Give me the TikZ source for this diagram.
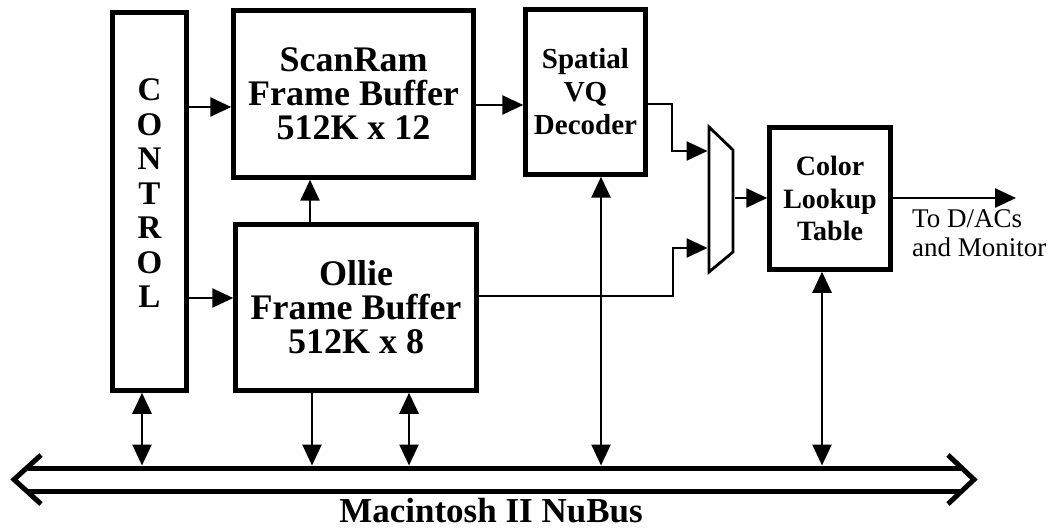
\documentclass[tikz,border=0pt]{standalone}
\usepackage{fontspec}
\setmainfont{Liberation Serif}
\usetikzlibrary{arrows.meta,calc}
\begin{document}
\begin{tikzpicture}[x=1pt,y=-1pt,
  blk/.style={draw,line width=4.5pt,inner sep=0pt,align=center,font=\bfseries},
  arr/.style={line width=2.6pt,-{Triangle[length=21pt,width=19pt]}},
  darr/.style={line width=2.6pt,{Triangle[length=21pt,width=19pt]}-{Triangle[length=21pt,width=19pt]}},
  busline/.style={line width=5pt},
  bigtxt/.style={font=\fontsize{36}{34}\selectfont\bfseries},
  midtxt/.style={font=\fontsize{28}{32.5}\selectfont\bfseries},
]
\useasboundingbox (0,0) rectangle (1059,529);

% blocks
\node[blk,minimum width=74pt,minimum height=378pt,
      font=\fontsize{33}{34.5}\selectfont\bfseries] (ctrl) at (149.5,201.5)
      {C\\O\\N\\T\\R\\O\\L\\[-18.5pt]\mbox{}};
\node[blk,bigtxt,minimum width=240pt,minimum height=167pt] (scan) at (353.5,94)
      {ScanRam\\Frame Buffer\\512K x 12};
\node[blk,bigtxt,minimum width=241pt,minimum height=166pt] (ollie) at (356,307.5)
      {Ollie\\Frame Buffer\\512K x 8};
\node[blk,midtxt,font=\fontsize{29}{33}\selectfont\bfseries,
      minimum width=120pt,minimum height=165pt] (spat) at (585.5,92)
      {Spatial\\VQ\\Decoder};
\node[blk,midtxt,minimum width=121pt,minimum height=142pt] (color) at (830,198.5)
      {Color\\Lookup\\Table};

% multiplexer
\draw[line width=2.8pt,line join=miter] (709,127) -- (733,150) -- (733,252) -- (709,272) -- cycle;
\coordinate (muxin1) at (707.5,151);
\coordinate (muxin2) at (707.5,248);
\coordinate (muxout) at (734.5,198);

% connectors
\draw[arr] (ctrl.east |- 0,107) -- (scan.west |- 0,107);
\draw[arr] (ctrl.east |- 0,298) -- (ollie.west |- 0,298);
\draw[arr] (scan.east |- 0,105) -- (spat.west |- 0,105);
\draw[arr] (ollie.north -| 310,0) -- (scan.south -| 310,0);
\draw[arr] (spat.east |- 0,104) -- (672,104) -- (672,151) -- (muxin1);
\draw[arr] (ollie.east |- 0,296) -- (673,296) -- (673,248) -- (muxin2);
\draw[arr] (muxout) -- (color.west |- muxout);
\coordinate (out) at (1016,198);
\draw[arr] (color.east |- out) -- (out);
\node[anchor=north west,align=left,inner sep=0pt,
      font=\fontsize{27}{29}\selectfont] (lbl) at (912,209)
      {To D/ACs\\and Monitor};

% bus
\coordinate (bustop) at (0,465.5);
\draw[busline] (28,468) -- (961,468);
\draw[busline] (28,491) -- (961,491);
\draw[busline,line join=miter] (41,455) -- (14,479.5) -- (41,504);
\draw[busline,line join=miter] (948,455) -- (974,479.5) -- (948,504);
\node[font=\fontsize{35}{36}\selectfont\bfseries,anchor=base] (bus) at (491,522)
      {Macintosh II NuBus};

\draw[darr] (ctrl.south -| 142,0) -- (142,0 |- bustop);
\draw[arr]  (ollie.south -| 312,0) -- (312,0 |- bustop);
\draw[darr] (ollie.south -| 409,0) -- (409,0 |- bustop);
\draw[darr] (spat.south -| 601,0) -- (601,0 |- bustop);
\draw[darr] (color.south -| 822,0) -- (822,0 |- bustop);
\end{tikzpicture}
\end{document}
